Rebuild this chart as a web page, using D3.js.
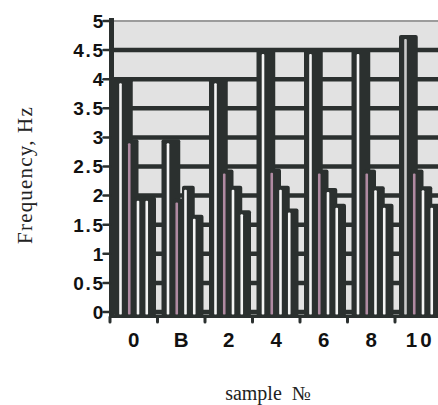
<!DOCTYPE html>
<html><head><meta charset="utf-8">
<script src="https://cdn.jsdelivr.net/npm/d3@7"></script>
<style>body{margin:0;background:#fff}svg{display:block}</style>
</head><body><svg id="c" width="438" height="405"></svg>
<script>
// ---- data ----
const categories = ["0", "B", "2", "4", "6", "8", "10"];
const bar1 = [4.0, 2.97, 4.0, 4.5, 4.5, 4.5, 4.76];
const bar2 = [2.97, 1.95, 2.45, 2.46, 2.45, 2.45, 2.45];
const bar3 = [1.98, 2.17, 2.17, 2.17, 2.13, 2.16, 2.16];
const bar4 = [1.98, 1.67, 1.75, 1.78, 1.86, 1.86, 1.86];
const yTicks = [0, 0.5, 1, 1.5, 2, 2.5, 3, 3.5, 4, 4.5, 5];
const yTickLabels = ["0", "0.5", "1", "1.5", "2", "2.5", "3", "3.5", "4", "4.5", "5"];
const gridValues = [0, 0.5, 1, 1.5, 2, 2.5, 3, 3.5, 4, 4.5];

const series = [bar1, bar2, bar3, bar4];
const rows = [];
categories.forEach((c, gi) => series.forEach((s, si) => rows.push({cat: c, idx: si, value: s[gi]})));

const DARK = "#2b302f";
const svg = d3.select("#c");
const x = d3.scaleBand().domain(categories).range([110, 442.5]);
const sub = d3.scaleBand().domain([0, 1, 2, 3]).range([8, 43]);
const y = d3.scaleLinear().domain([0, 5]).range([312, 21]);
const bw = sub.bandwidth();

// plot background
svg.append("rect").attr("x", 112).attr("y", y(5)).attr("width", 330)
  .attr("height", y(0) - y(5)).attr("fill", "#e2e2e2");
svg.append("line").attr("x1", 112).attr("x2", 440).attr("y1", y(5)).attr("y2", y(5))
  .attr("stroke", "#9c9c9c").attr("stroke-width", 2);

// gridlines
svg.append("g").selectAll("line").data(gridValues).join("line")
  .attr("x1", 110).attr("x2", 442).attr("y1", d => y(d)).attr("y2", d => y(d))
  .attr("stroke", DARK).attr("stroke-width", 4.5);

// dark bars
svg.append("g").selectAll("rect").data(rows).join("rect")
  .attr("x", d => x(d.cat) + sub(d.idx) - (d.idx === 0 ? 4 : 1))
  .attr("width", d => bw + (d.idx === 0 ? 10 : 4))
  .attr("y", d => y(d.value))
  .attr("height", d => y(0) - y(d.value) + 4)
  .attr("rx", 2)
  .attr("fill", DARK);

// light stripes inside the bars
svg.append("g").selectAll("rect").data(rows).join("rect")
  .attr("x", d => x(d.cat) + sub(d.idx) + 1.2)
  .attr("width", 2.6)
  .attr("y", d => y(d.value) + 4)
  .attr("height", d => y(0) - y(d.value) - 1)
  .attr("rx", 1)
  .attr("fill", d => d.idx === 1 ? "#b08aa2" : (d.cat === "10" && d.idx === 0 ? "#c9c9c9" : "#f4f4f4"));

// axes
svg.append("rect").attr("x", 109).attr("y", 18).attr("width", 5).attr("height", 300).attr("fill", DARK);
svg.append("rect").attr("x", 109).attr("y", 314.5).attr("width", 333).attr("height", 3.5).attr("fill", DARK);

svg.append("g").selectAll("line").data(yTicks).join("line")
  .attr("x1", 103.5).attr("x2", 110).attr("y1", d => y(d)).attr("y2", d => y(d))
  .attr("stroke", DARK).attr("stroke-width", 2.5).attr("stroke-linecap", "round");

svg.append("g").selectAll("text").data(yTicks).join("text")
  .attr("x", 105).attr("y", d => y(d)).attr("dy", "0.36em")
  .attr("text-anchor", "end")
  .attr("font-family", "Liberation Sans, Arial").attr("font-weight", "bold")
  .attr("font-size", 19).attr("letter-spacing", 1.8).attr("fill", "#111")
  .text((d, i) => yTickLabels[i]);

svg.append("g").selectAll("line").data(categories).join("line")
  .attr("x1", d => x(d)).attr("x2", d => x(d)).attr("y1", 317).attr("y2", 322)
  .attr("stroke", DARK).attr("stroke-width", 3).attr("stroke-linecap", "round");

svg.append("g").selectAll("text").data(categories).join("text")
  .attr("x", d => x(d) + x.bandwidth() / 2 + 1.5).attr("y", 347)
  .attr("text-anchor", "middle")
  .attr("font-family", "Liberation Sans, Arial").attr("font-weight", "bold")
  .attr("font-size", 20.5).attr("letter-spacing", 3).attr("fill", "#111")
  .text(d => d);

// titles
svg.append("text").attr("transform", "translate(32,175) rotate(-90)")
  .attr("text-anchor", "middle").attr("font-family", "Liberation Serif")
  .attr("font-size", 21).attr("letter-spacing", 1.2).attr("fill", "#222")
  .text("Frequency, Hz");
svg.append("text").attr("x", 268).attr("y", 400)
  .attr("text-anchor", "middle").attr("font-family", "Liberation Serif")
  .attr("font-size", 20).attr("fill", "#222")
  .text("sample\u00a0 \u2116");
</script></body></html>
